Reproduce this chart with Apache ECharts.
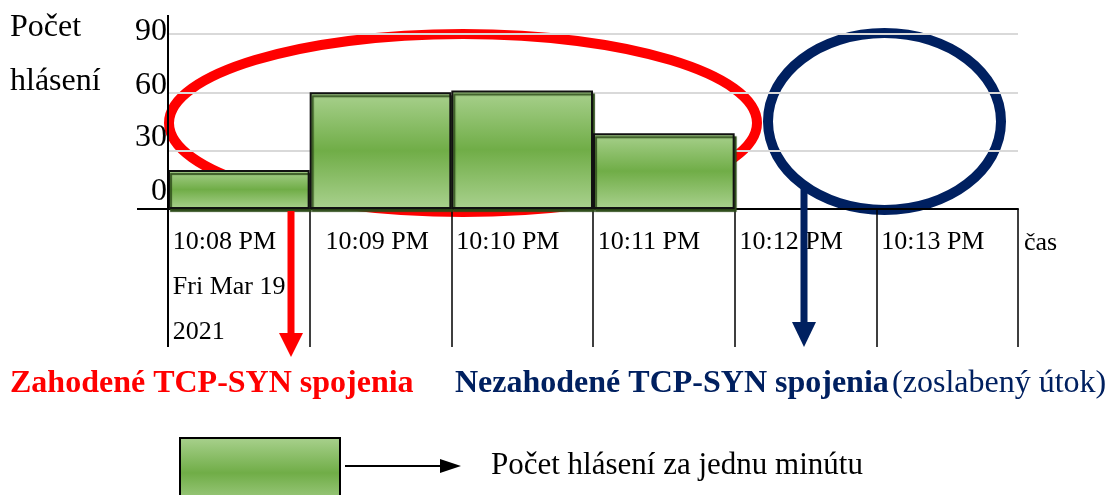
<!DOCTYPE html>
<html><head><meta charset="utf-8">
<script src="https://cdn.jsdelivr.net/npm/echarts@6/dist/echarts.min.js"></script>
<style>html,body{margin:0;padding:0;background:#fff}#c{width:1114px;height:495px}</style>
</head><body><div id="c"></div>
<script>
const categories = ['10:08 PM', '10:09 PM', '10:10 PM', '10:11 PM', '10:12 PM', '10:13 PM'];
const firstLabelExtra = ['Fri Mar 19', '2021'];
const reports = [20, 60, 61, 39, null, null];
const yTickValues = [0, 30, 60, 90];
const yTitle = ['Počet', 'hlásení'];
const xTitle = 'čas';
const droppedText = 'Zahodené TCP-SYN spojenia';
const notDroppedText = 'Nezahodené TCP-SYN spojenia';
const notDroppedNote = '(zoslabený útok)';
const legendText = 'Počet hlásení za jednu minútu';

const FONT = "'Liberation Serif', 'Times New Roman', serif";
const RED = '#ff0000', NAVY = '#002060';
const greenGrad = () => new echarts.graphic.LinearGradient(0, 0, 0, 1, [
  {offset: 0, color: '#a9d18e'}, {offset: 0.5, color: '#70ad47'}, {offset: 1, color: '#a9d18e'}
]);

const chart = echarts.init(document.getElementById('c'), null, {renderer: 'canvas'});
const yPad = {0: 34, 30: 26, 60: 14, 90: 4};
const yRich = {};
yTickValues.forEach(v => { yRich['v' + v] = {padding: [0, 0, yPad[v], 0], fontSize: 32, fontFamily: FONT, color: '#000'}; });

const xRich = {
  a: {width: 132, align: 'left', lineHeight: 45, fontSize: 26, fontFamily: FONT, color: '#000'},
  b: {width: 132, align: 'left', lineHeight: 45, fontSize: 26, fontFamily: FONT, color: '#000', padding: [0, 0, 0, 22]}
};

chart.setOption({
  animation: false,
  backgroundColor: '#fff',
  grid: {left: 168, right: 96, top: 34, bottom: 286},
  xAxis: {
    type: 'category',
    data: categories,
    boundaryGap: true,
    axisLine: {lineStyle: {color: '#000', width: 2}},
    axisTick: {show: true, interval: 0, length: 138, lineStyle: {color: '#000', width: 1.5}},
    axisLabel: {
      interval: 0, margin: 11,
      formatter: (v, i) => i === 0 ? ['{a|' + v + '}'].concat(firstLabelExtra.map(t => '{a|' + t + '}')).join('\n')
                         : (i === 1 ? '{b|' + v + '}' : '{a|' + v + '}'),
      rich: xRich
    },
    splitLine: {show: false}
  },
  yAxis: {
    type: 'value', min: 0, max: 90, interval: 30,
    axisLine: {show: false}, axisTick: {show: false},
    axisLabel: {margin: 1, formatter: v => '{v' + v + '|' + v + '}', rich: yRich},
    splitLine: {show: true, lineStyle: {color: '#d9d9d9', width: 2}}
  },
  series: [{
    type: 'bar',
    data: reports,
    barWidth: '100%',
    barCategoryGap: 0,
    z: 3,
    itemStyle: {color: greenGrad(), borderColor: '#111', borderWidth: 2,
      shadowColor: 'rgba(45,75,25,0.9)', shadowOffsetX: 2, shadowOffsetY: 3, shadowBlur: 1}
  }],
  graphic: [
    {type: 'ellipse', z: -5, shape: {cx: 463, cy: 123, rx: 294, ry: 89}, style: {fill: 'none', stroke: RED, lineWidth: 10}},
    {type: 'ellipse', z: -5, shape: {cx: 884.5, cy: 121.5, rx: 116.5, ry: 88.5}, style: {fill: 'none', stroke: NAVY, lineWidth: 10}},
    {type: 'line', z: 10, shape: {x1: 168, y1: 15, x2: 168, y2: 347}, style: {stroke: '#000', lineWidth: 2}},
    {type: 'line', z: 10, shape: {x1: 137, y1: 209, x2: 168, y2: 209}, style: {stroke: '#000', lineWidth: 2}},
    {type: 'line', z: 20, shape: {x1: 291, y1: 211, x2: 291, y2: 336}, style: {stroke: RED, lineWidth: 7}},
    {type: 'polygon', z: 20, shape: {points: [[279, 333], [303, 333], [291, 357]]}, style: {fill: RED}},
    {type: 'line', z: 20, shape: {x1: 804, y1: 186, x2: 804, y2: 324}, style: {stroke: NAVY, lineWidth: 7}},
    {type: 'polygon', z: 20, shape: {points: [[792, 322], [816, 322], [804, 347]]}, style: {fill: NAVY}},
    {type: 'text', z: 20, x: 10, y: 28, style: {text: yTitle[0], font: '32px ' + FONT, fill: '#000', verticalAlign: 'middle'}},
    {type: 'text', z: 20, x: 10, y: 82, style: {text: yTitle[1], font: '32px ' + FONT, fill: '#000', verticalAlign: 'middle'}},
    {type: 'text', z: 20, x: 1024, y: 243, style: {text: xTitle, font: '26px ' + FONT, fill: '#000', verticalAlign: 'middle'}},
    {type: 'text', z: 20, x: 10, y: 384, style: {text: droppedText, font: 'bold 32px ' + FONT, fill: RED, verticalAlign: 'middle'}},
    {type: 'text', z: 20, x: 455, y: 384, style: {
      text: '{b|' + notDroppedText + '} {n|' + notDroppedNote + '}', verticalAlign: 'middle',
      rich: {b: {fontSize: 32, fontWeight: 'bold', fontFamily: FONT, fill: NAVY, color: NAVY},
             n: {fontSize: 32, fontFamily: FONT, fill: NAVY, color: NAVY}}
    }},
    {type: 'rect', z: 20, shape: {x: 180, y: 438, width: 160, height: 70}, style: {fill: greenGrad(), stroke: '#000', lineWidth: 2}},
    {type: 'line', z: 20, shape: {x1: 345, y1: 466, x2: 442, y2: 466}, style: {stroke: '#000', lineWidth: 2}},
    {type: 'polygon', z: 20, shape: {points: [[440, 459], [461, 466], [440, 473]]}, style: {fill: '#000'}},
    {type: 'text', z: 20, x: 491, y: 466, style: {text: legendText, font: '31px ' + FONT, fill: '#000', verticalAlign: 'middle'}}
  ]
});
</script></body></html>
